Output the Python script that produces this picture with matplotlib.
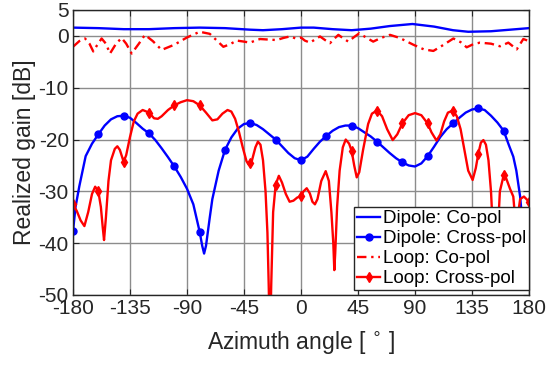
import matplotlib
matplotlib.use("Agg")
import matplotlib.pyplot as plt
import numpy as np

plt.rcParams['font.family'] = ['Liberation Sans', 'DejaVu Sans']
plt.rcParams['axes.unicode_minus'] = False

# Dipole co-pol
dip_co_x = [-180, -160, -140, -120, -100, -80, -60, -40, -30, -15, 0, 10, 25, 40, 55, 70, 88, 105, 120, 132, 150, 165, 180]
dip_co_y = [1.6, 1.5, 1.3, 1.3, 1.5, 1.6, 1.5, 1.2, 1.1, 1.3, 1.6, 1.6, 1.3, 1.1, 1.4, 1.9, 2.3, 1.8, 1.1, 0.8, 0.9, 1.2, 1.5]

# Dipole cross-pol
dip_x_x = [-180, -178, -175, -170, -165, -160, -155, -150, -145, -140, -135, -130, -125, -120,
           -115, -110, -105, -100, -95, -90, -85, -80, -78, -76.5, -75, -72, -70, -65, -60,
           -55, -50, -45, -40, -35, -30, -25, -20, -15, -10, -5, 0, 5, 10, 15, 20, 25, 30,
           35, 40, 45, 50, 55, 60, 65, 70, 75, 80, 85, 90, 95, 100, 105, 110, 115, 120,
           125, 130, 135, 140, 145, 150, 155, 160, 164, 167.6, 170, 173, 176, 178, 180]
dip_x_y = [-37.7, -33.0, -29.0, -23.2, -20.8, -19.0, -17.3, -16.1, -15.5, -15.4, -15.8, -16.8, -17.9, -18.8,
           -20.1, -21.7, -23.4, -25.2, -27.2, -29.5, -32.5, -37.8, -40.5, -42.0, -40.5, -35.0, -31.5, -26.0, -22.0,
           -19.6, -17.9, -17.0, -16.8, -17.2, -18.0, -19.0, -20.0, -21.3, -22.6, -23.6, -24.0, -23.3, -21.8, -20.4, -19.3, -18.3, -17.6,
           -17.3, -17.3, -17.8, -18.6, -19.4, -20.4, -21.5, -22.6, -23.6, -24.4, -25.0, -25.2, -24.6, -23.2, -21.4, -19.5, -18.0, -16.9,
           -15.8, -14.8, -14.2, -14.0, -14.3, -15.4, -16.7, -18.3, -21.0, -23.3, -26.0, -31.0, -39.4, -45.8, -41.6]

# Loop co-pol
loop_co_x = [-180, -175, -170.5, -167, -164, -161, -157.4, -154, -150.8, -146, -141.6, -138, -133.7, -128,
             -123.2, -117, -110, -100, -90, -80, -72, -66, -61.3, -56, -50.8, -45, -40.3, -36, -32.4,
             -26, -19.2, -14, -8.7, -4, 0, 3, 7.1, 11, 15, 19, 22.9, 26, 29.5, 33, 37.3, 42, 46, 52,
             57, 63, 70.3, 78, 88.7, 97, 104.5, 112, 120.3, 126, 130.8, 136, 141.3, 150, 157.1, 163.7,
             170.3, 175.5, 180]
loop_co_y = [-2.1, -1.0, -0.5, -1.5, -3.0, -1.8, -0.5, -1.5, -3.4, -1.5, -0.4, -1.5, -3.4, -1.5,
             0.2, -1.0, -2.7, -1.7, -0.3, 0.8, 0.4, -1.0, -2.1, -1.6, -0.9, -1.1, -1.3, -0.9, -0.6,
             -0.7, -0.8, -0.4, -0.1, -0.5, -0.3, -0.9, -1.3, -0.7, -0.1, -0.8, -1.4, -0.6, 0.2, -0.4, -1.1, -0.2, 0.5, -0.4,
             -1.1, -0.4, 0.2, -0.4, -1.7, -2.6, -2.9, -1.8, -0.5, -1.2, -2.2, -1.6, -1.3, -1.5, -2.0, -1.3,
             -2.6, -0.6, -1.0]

# Loop cross-pol
loop_x_x = [-180, -177, -174, -171, -168, -165, -162.5, -160, -158, -156.5, -155.5, -154, -152, -150,
            -147, -145, -143, -140, -138, -135, -132, -129, -125, -120, -116, -113, -110, -105, -100,
            -95, -90, -85, -80, -75, -70, -66, -62, -58, -55, -52, -49, -46, -43, -41, -40, -39, -36,
            -34, -32, -30, -28, -26.5, -25.5, -24.5, -23.5, -22, -20, -17.5, -15, -12, -9, -6, -3, 0,
            2, 4.5, 7, 9, 11, 13, 16, 19.5, 22, 24, 25.5, 26.3, 27, 28.5, 30.5, 33, 35.3, 38, 40, 42,
            44, 46, 49, 53, 56, 60, 64, 68, 72.4, 76, 80, 85, 90, 95, 100, 103, 107, 110, 113, 116,
            120, 123, 126, 129, 132, 135.5, 138, 140, 142, 144, 146, 148, 150, 152, 153.5, 155, 157,
            160, 162, 165, 167.6, 169, 171, 173, 176, 180]
loop_x_y = [-32.5, -33.8, -35.6, -36.7, -34.0, -30.5, -29.1, -30.0, -33.0, -37.0, -39.4, -35.0, -28.0, -24.0,
            -21.8, -21.3, -22.0, -24.3, -23.0, -19.5, -16.5, -15.0, -14.3, -14.8, -15.9, -16.0, -15.5, -14.3, -13.4,
            -12.8, -12.4, -12.6, -13.4, -14.8, -16.3, -16.1, -15.0, -14.3, -14.6, -16.0, -18.5, -21.5, -24.2, -24.9, -24.6, -24.3, -21.5,
            -20.4, -21.0, -24.0, -30.0, -38.0, -48.0, -60.0, -48.0, -34.0, -28.7, -27.0, -28.3, -30.5, -32.0, -31.8, -31.2, -30.9,
            -30.0, -29.4, -30.4, -32.0, -32.5, -31.5, -28.0, -26.1, -28.0, -34.0, -40.0, -45.2, -42.0, -33.0, -26.0, -21.5, -20.0, -20.8, -22.2, -25.0,
            -27.3, -26.3, -22.0, -17.0, -15.0, -14.4, -15.5, -18.0, -20.1, -19.0, -16.9, -15.3, -14.9, -15.3, -16.9, -18.6, -20.2, -19.0, -16.5, -14.8,
            -14.4, -15.5, -18.0, -22.0, -26.0, -27.8, -25.5, -22.7, -20.6, -20.1, -21.0, -24.0, -30.0, -40.0, -48.0, -40.0, -30.0,
            -26.9, -27.5, -29.5, -31.0, -35.0, -35.0, -31.5, -31.0, -32.0]

x_ticks = [-180, -135, -90, -45, 0, 45, 90, 135, 180]
y_ticks = [-50, -40, -30, -20, -10, 0, 5]
legend_labels = ['Dipole: Co-pol', 'Dipole: Cross-pol', 'Loop: Co-pol', 'Loop: Cross-pol']

def marks(xs):
    return [i for i, v in enumerate(xs) if float(v) % 20 == 0]

fig = plt.figure(figsize=(5.49, 3.68), dpi=100)
ax = fig.add_axes([73/549, 1-295/368, 456/549, 285/368])

dark = '#262626'
ax.plot(dip_co_x, dip_co_y, color='blue', lw=1.7, label=legend_labels[0])
ax.plot(dip_x_x, dip_x_y, color='blue', lw=1.7, marker='o', ms=5, markevery=marks(dip_x_x), label=legend_labels[1])
ax.plot(loop_co_x, loop_co_y, color='red', lw=1.7, ls=(0, (4, 2, 1, 2)), label=legend_labels[2])
ax.plot(loop_x_x, loop_x_y, color='red', lw=1.7, marker='d', ms=5, markevery=marks(loop_x_x), label=legend_labels[3])

ax.set_xlim(-180, 180)
ax.set_ylim(-50, 5)
ax.set_xticks(x_ticks)
ax.set_yticks(y_ticks)
ax.grid(True, color='#8c8c8c', lw=1.0)
ax.set_axisbelow(True)
ax.tick_params(direction='in', top=True, right=True, length=4, labelsize=15, colors=dark, pad=3)
for s in ax.spines.values():
    s.set_color(dark)
    s.set_linewidth(1.0)

ax.set_xlabel('Azimuth angle [ $^{\\circ}$ ]', fontsize=16.5, color=dark, labelpad=8)
ax.set_ylabel('Realized gain [dB]', fontsize=16.5, color=dark, labelpad=2)

leg = ax.legend(loc='lower right', bbox_to_anchor=(529.3/549, 1-290/368), bbox_transform=fig.transFigure,
                fontsize=13.5, handlelength=1.25, handletextpad=0.15, labelspacing=0.15,
                borderpad=0.15, borderaxespad=0, fancybox=False, framealpha=1, edgecolor=dark)
leg.get_frame().set_linewidth(1.0)

fig.savefig('out.png', dpi=100)
